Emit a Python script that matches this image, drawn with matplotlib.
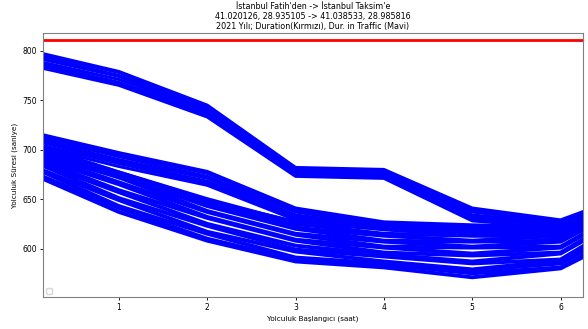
import numpy as np
from matplotlib import pyplot as plt
import matplotlib as mpl

mpl.rcParams['font.family'] = 'DejaVu Sans'

hours = [0, 1, 2, 3, 4, 5, 6, 7]

# ust grup (en yavas gunler)
band_top = [
    [800, 779, 745, 682, 680, 641, 629, 662],
    [798, 778, 743, 681, 679, 639, 628, 660],
    [796, 775, 742, 680, 678, 637, 627, 658],
    [794, 774, 740, 679, 677, 634, 626, 657],
    [791, 771, 739, 677, 675, 633, 625, 655],
    [789, 768, 737, 676, 674, 631, 624, 654],
    [787, 767, 735, 674, 672, 629, 622, 652],
    [785, 765, 733, 673, 671, 628, 621, 650],
]

# orta grup
band_mid = [
    [718, 697, 678, 641, 627, 624, 622, 652],
    [716, 695, 676, 639, 626, 622, 621, 650],
    [714, 693, 673, 637, 624, 620, 619, 648],
    [712, 690, 671, 634, 623, 618, 617, 646],
    [710, 688, 668, 633, 621, 616, 615, 644],
    [707, 686, 666, 631, 620, 614, 613, 642],
    [705, 683, 664, 629, 619, 613, 611, 640],
]

# alt grup
band_low = [
    [676, 637, 608, 587, 581, 571, 580, 625],
    [678, 641, 610, 589, 584, 575, 581, 630],
    [683, 643, 615, 591, 585, 578, 585, 634],
    [684, 649, 617, 597, 587, 579, 588, 638],
    [689, 651, 623, 599, 592, 585, 589, 642],
    [690, 657, 625, 603, 594, 587, 595, 645],
    [693, 659, 631, 608, 596, 593, 596, 648],
    [694, 665, 632, 609, 601, 595, 601, 650],
    [697, 667, 637, 614, 602, 601, 602, 652],
    [698, 672, 638, 615, 607, 602, 607, 654],
    [701, 673, 643, 620, 608, 607, 608, 656],
    [702, 676, 644, 621, 613, 608, 613, 658],
    [704, 677, 649, 625, 615, 613, 614, 659],
    [706, 677, 650, 626, 620, 615, 618, 660],
    [707, 675, 648, 627, 622, 619, 619, 661],
    [705, 672, 646, 624, 624, 620, 622, 662],
]

duration = 811

fig = plt.figure(figsize=(5.88, 3.29), dpi=100)
ax1 = fig.add_axes([0.073, 0.097, 0.918, 0.803])

for y in band_top + band_mid:
    ax1.plot(hours, y, color='blue', linewidth=2.2)
for y in band_low:
    ax1.plot(hours, y, color='blue', linewidth=2.8)

ax1.axhline(duration, color='red', linewidth=2)

ax1.set_xlim(0.14, 6.25)
ax1.set_ylim(551, 818)
ax1.set_xticks([1, 2, 3, 4, 5, 6])
ax1.set_yticks([600, 650, 700, 750, 800])
ax1.tick_params(axis='both', labelsize=5.5, length=2.5, width=0.6, pad=2)
for s in ax1.spines.values():
    s.set_color('#808080')

ax1.set_xlabel('Yolculuk Başlangıcı (saat)', fontsize=5.2, labelpad=2)
ax1.set_ylabel('Yolculuk Süresi (saniye)', fontsize=5.2, labelpad=3)
ax1.set_title("İstanbul Fatih'den -> İstanbul Taksim'e\n"
              "41.020126, 28.935105 -> 41.038533, 28.985816\n"
              "2021 Yılı; Duration(Kırmızı), Dur. in Traffic (Mavi)",
              fontsize=5.8, pad=3, linespacing=1.15)

ax1.legend(loc='lower left', fontsize=5)

plt.savefig('out.png', dpi=100)
plt.close()
